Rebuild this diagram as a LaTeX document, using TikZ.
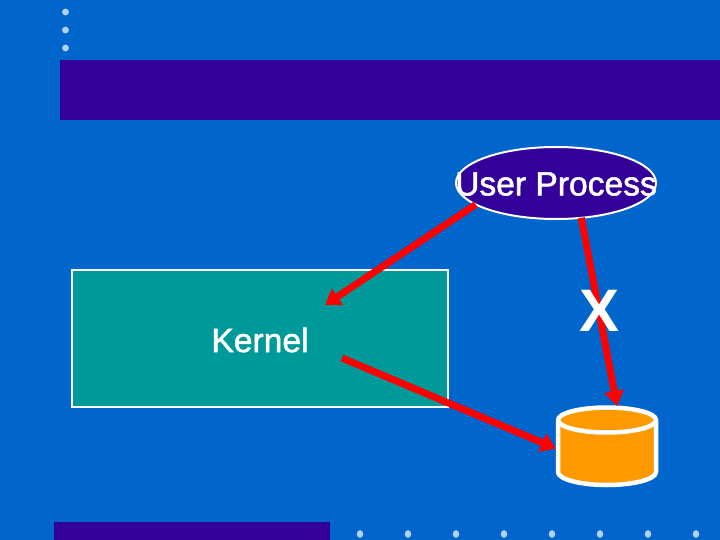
\documentclass[tikz,border=0pt]{standalone}
\usepackage{fontspec}
\setmainfont{Liberation Sans}
\newfontfamily\labelfont[FakeBold=1.6]{Liberation Sans}
\usetikzlibrary{shapes.geometric,arrows.meta}
\definecolor{bgblue}{HTML}{0066CC}
\definecolor{barpurple}{HTML}{330099}
\definecolor{kernelteal}{HTML}{009999}
\definecolor{dborange}{HTML}{FF9900}
\definecolor{dotblue}{HTML}{B4D2F0}
\tikzset{
  x=1pt,y=-1pt,
  bar/.style={fill=barpurple,draw=none},
  dotmark/.style={fill=dotblue,draw=none},
  label/.style={text=white,font=\labelfont\fontsize{33.6}{36}\selectfont,inner sep=0pt},
  redarrow/.style={draw=red,line width=7pt,-{Triangle[length=15pt,width=19pt]}},
  dbshape/.style={draw=white,line width=4.5pt,fill=dborange}
}
\begin{document}
\begin{tikzpicture}
\useasboundingbox (0,0) rectangle (720,540);
\fill[bgblue] (0,0) rectangle (720,540);
\foreach \y in {12,30,48} \fill[dotmark] (65.5,\y) circle (3.4);
\foreach \x in {360,408,456,504,552,600,648,696} \fill[dotmark] (\x,534) circle [x radius=3.2,y radius=3.8];
\fill[bar] (60,60) rectangle (720,120.5);
\fill[bar] (54,522) rectangle (330,540);
\node[draw=white,fill=kernelteal,line width=2pt,minimum width=376pt,minimum height=137pt,inner sep=0pt,outer sep=0pt] (kernel) at (260,338.5) {};
\node[label] (kernellabel) at (260,340) {Kernel};
\node[ellipse,draw=white,fill=barpurple,line width=2pt,minimum width=200pt,minimum height=72pt,inner sep=0pt,outer sep=0pt] (user) at (556,183) {};
\node[label] (userlabel) at (556,184) {User Process};
\node[minimum width=102pt,minimum height=81pt,inner sep=0pt,outer sep=0pt] (db) at (607,446.5) {};
\path[dbshape] (558,420) -- (558,472) arc[start angle=180,end angle=0,x radius=49,y radius=13] -- (656,420) arc[start angle=0,end angle=-180,x radius=49,y radius=12.5] -- cycle;
\draw[white,line width=4.5pt] (558,420) arc[start angle=180,end angle=0,x radius=49,y radius=12.5];
\coordinate (kernelin) at (325,305);
\coordinate (kernelout) at (342,358);
\draw[redarrow] (user.195) -- (kernelin);
\draw[redarrow] (user.306) -- ([xshift=10pt]db.north);
\draw[redarrow] (kernelout) -- ([yshift=-2pt]db.west);
\node[text=white,font=\bfseries\fontsize{60}{64}\selectfont,inner sep=0pt] (xmark) at (600,311) {X};
\end{tikzpicture}
\end{document}
